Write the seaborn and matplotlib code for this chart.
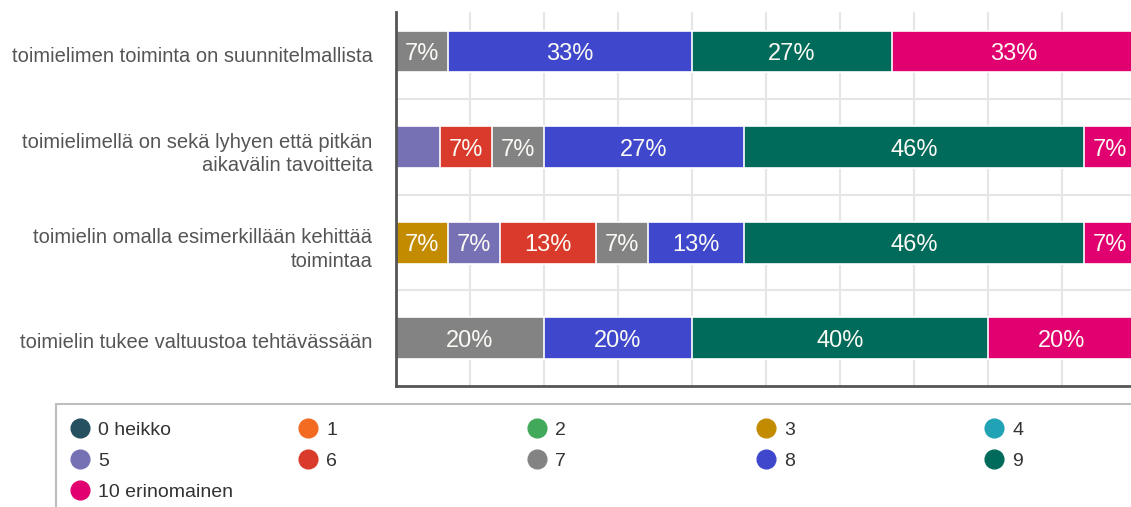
import numpy as np
import pandas as pd
import seaborn as sns
import matplotlib.pyplot as plt
from matplotlib.lines import Line2D
from matplotlib.patches import Rectangle
from matplotlib.transforms import ScaledTranslation

# scale levels and their colours
levels = ["0 heikko", "1", "2", "3", "4", "5", "6", "7", "8", "9", "10 erinomainen"]
colors = ["#24505f", "#f26b21", "#42a85a", "#c38b00", "#22a2b5", "#7671b4",
          "#d93a2b", "#838384", "#3f48cc", "#006b5a", "#e0006f"]

questions = [
    "toimielimen toiminta on suunnitelmallista",
    "toimielimellä on sekä lyhyen että pitkän\naikavälin tavoitteita",
    "toimielin omalla esimerkillään kehittää\ntoimintaa",
    "toimielin tukee valtuustoa tehtävässään",
]

# share of answers (%) for levels 0..10
q1 = [0, 0, 0, 0, 0, 0, 0, 7, 33, 27, 33]
q2 = [0, 0, 0, 0, 0, 6, 7, 7, 27, 46, 7]
q3 = [0, 0, 0, 7, 0, 7, 13, 7, 13, 46, 7]
q4 = [0, 0, 0, 0, 0, 0, 0, 20, 20, 40, 20]

rows = []
for q, vals in zip(questions, [q1, q2, q3, q4]):
    cum = np.cumsum(vals)
    for lvl, v, c in zip(levels, vals, cum):
        rows.append({"question": q, "level": lvl, "value": v, "cum": c})
df = pd.DataFrame(rows)

sns.set_theme(style="white")
plt.rcParams["font.family"] = ["Liberation Sans", "DejaVu Sans"]

W, H = 1131, 507
fig = plt.figure(figsize=(W / 100, H / 100), dpi=100)
ax = fig.add_axes([396 / W, 1 - 386 / H, 740 / W, 374 / H])

# stacked bars: draw cumulative totals from the last level down
for lvl, col in reversed(list(zip(levels, colors))):
    sub = df[(df["level"] == lvl) & (df["value"] > 0)]
    if sub.empty:
        continue
    sns.barplot(data=sub, x="cum", y="question", order=questions, color=col,
                saturation=1, width=0.437, edgecolor="white", linewidth=1.2,
                orient="h", errorbar=None, ax=ax)

for _, r in df.iterrows():
    if r["value"] >= 7:
        ax.text(r["cum"] - r["value"] / 2, questions.index(r["question"]),
                f"{r['value']}%", ha="center", va="center_baseline",
                color="#fbfaf5", fontsize=17)

ax.set_xlim(0, 100)
ax.set_ylim(3.5, -0.414)
ax.set_xticks(range(0, 101, 10))
ax.set_yticks(range(len(questions)))
ax.set_yticklabels(questions, fontsize=14.5, color="#555555", linespacing=1.3)
ax.set_yticks([0.5, 1.5, 2.5], minor=True)
ax.tick_params(axis="x", length=0, labelbottom=False)
ax.tick_params(axis="y", which="both", length=0, pad=17)
shift = ScaledTranslation(0, -2.5 / 100, fig.dpi_scale_trans)
for lbl in ax.get_yticklabels():
    lbl.set_transform(lbl.get_transform() + shift)
ax.grid(axis="x", which="major", color="#e6e6e6", lw=1.5)
ax.grid(axis="y", which="minor", color="#e6e6e6", lw=1.5)
ax.set_axisbelow(True)
ax.set_xlabel("")
ax.set_ylabel("")
for s in ["top", "right"]:
    ax.spines[s].set_visible(False)
for s in ["left", "bottom"]:
    ax.spines[s].set_color("#555555")
    ax.spines[s].set_linewidth(2)

# legend: frame plus five columns filled row by row
fig.patches.append(Rectangle((56 / W, -0.2), 1.0, 0.2 + 1 - 404 / H,
                             transform=fig.transFigure, fill=False,
                             edgecolor="#bdbdbd", lw=1.5))
col_x = [80, 308, 537, 766, 994]
col_items = [[0, 5, 10], [1, 6], [2, 7], [3, 8], [4, 9]]
fs = 14
hl_px = fs * 100 / 72
for cx, items in zip(col_x, col_items):
    handles = [Line2D([], [], marker="o", ls="", color=colors[k], markersize=13.5)
               for k in items]
    fig.legend(handles, [levels[k] for k in items], loc="upper left",
               bbox_to_anchor=((cx - hl_px / 2) / W, 1 - 421 / H),
               frameon=False, fontsize=fs, handlelength=1.0, handletextpad=0.43,
               labelspacing=0.7, borderpad=0, borderaxespad=0, labelcolor="#333333")

fig.savefig("out.png", dpi=100)
